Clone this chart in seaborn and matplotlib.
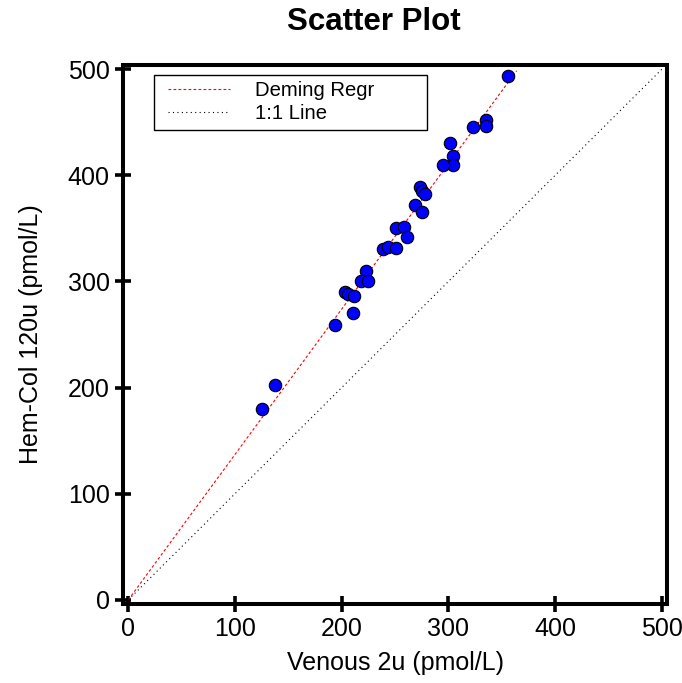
import matplotlib
matplotlib.use("Agg")
import matplotlib.pyplot as plt
import seaborn as sns
import pandas as pd
import numpy as np
from matplotlib.ticker import MultipleLocator
from matplotlib.legend_handler import HandlerLine2D

# ---- data ----
venous = [355.6, 335.0, 335.0, 322.8, 301.7, 304.0, 304.7, 295.0, 273.7, 275.6,
          278.0, 269.0, 275.0, 250.6, 258.0, 261.0, 238.7, 243.0, 251.2, 223.0,
          218.4, 224.3, 203.0, 206.2, 211.2, 210.2, 194.0, 137.4, 125.2]
hemcol = [493.4, 452.7, 446.4, 445.5, 430.5, 418.0, 409.5, 409.5, 389.0, 385.3,
          382.5, 372.0, 365.6, 350.8, 351.5, 342.4, 331.0, 332.7, 331.5, 310.0,
          300.8, 300.5, 289.8, 288.5, 286.0, 270.0, 259.0, 202.0, 180.2]

deming_slope = 1.37
deming_intercept = 0.0
deming_x = [0.0, 364.0]
identity_x = [0.0, 500.0]
ticks = [0, 100, 200, 300, 400, 500]

title = "Scatter Plot"
xlabel = "Venous 2u (pmol/L)"
ylabel = "Hem-Col 120u (pmol/L)"
legend_labels = ["Deming Regr", "1:1 Line"]

df = pd.DataFrame({"x": venous, "y": hemcol})
dem = pd.DataFrame({"x": deming_x,
                    "y": [deming_intercept + deming_slope * v for v in deming_x]})
ident = pd.DataFrame({"x": identity_x, "y": identity_x})

sns.set_style("white")
plt.rcParams["font.family"] = ["Liberation Sans", "DejaVu Sans"]
plt.rcParams["text.color"] = "black"
plt.rcParams["axes.labelcolor"] = "black"

fig = plt.figure(figsize=(6.82, 6.83), dpi=100)
ax = fig.add_axes([0.1804, 0.1157, 0.7977, 0.789])

sns.lineplot(data=dem, x="x", y="y", ax=ax, color="red", linewidth=0.8,
             linestyle=(0, (2.5, 2)), label=legend_labels[0], zorder=2)
sns.lineplot(data=ident, x="x", y="y", ax=ax, color="black", linewidth=0.8,
             linestyle=(0, (1, 3)), label=legend_labels[1], zorder=2)
sns.scatterplot(data=df, x="x", y="y", ax=ax, color="#0000FF", edgecolor="black",
                linewidth=0.8, s=80, zorder=3, legend=False)

ax.set_xlim(-5, 505)
ax.set_ylim(-4, 504)
ax.set_xticks(ticks)
ax.set_yticks(ticks)
ax.xaxis.set_minor_locator(MultipleLocator(25))
ax.yaxis.set_minor_locator(MultipleLocator(25))

for s in ax.spines.values():
    s.set_linewidth(2.9)
    s.set_color("black")

ax.tick_params(axis="both", which="major", direction="inout", length=11,
               width=2.6, labelsize=18, colors="black", pad=4,
               bottom=True, left=True, top=False, right=False)
ax.tick_params(axis="both", which="minor", direction="in", length=2.5,
               width=1, color="white", bottom=True, left=True, top=False, right=False)

ax.set_xlabel(xlabel, fontsize=18, labelpad=7, color="black")
ax.set_ylabel(ylabel, fontsize=18, labelpad=18, color="black")
fig.text(374 / 682, 1 - 22 / 683, title, fontsize=22.5, fontweight="bold",
         ha="center", va="center", color="black")

hm = {ln: HandlerLine2D(xpad=0.37) for ln in ax.get_lines()}
leg = ax.legend(loc="upper left", bbox_to_anchor=(0.057, 0.885, 0.502, 0.096),
                mode="expand", fontsize=14.6, frameon=True, fancybox=False,
                edgecolor="black", framealpha=1, handlelength=3.45,
                handletextpad=1.24, borderaxespad=0, borderpad=0.3,
                labelspacing=0.2, handler_map=hm)
leg.get_frame().set_linewidth(1.0)
for t in leg.get_texts():
    t.set_color("black")

fig.savefig("out.png", dpi=100)
